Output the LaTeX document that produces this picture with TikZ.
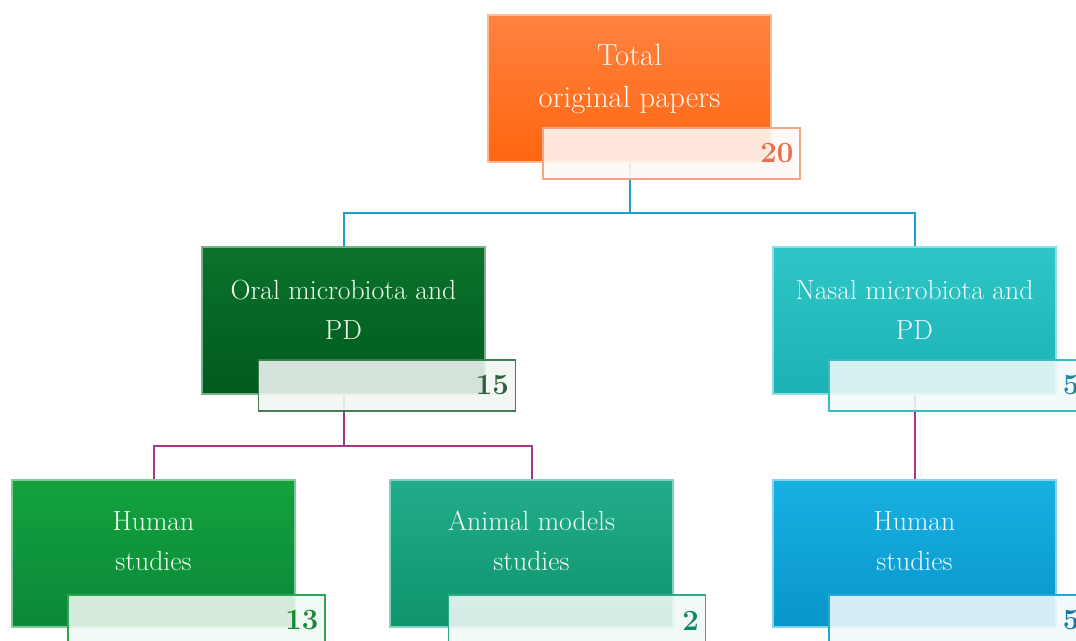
\documentclass[tikz,border=0pt]{standalone}
\usetikzlibrary{positioning}
\definecolor{orT}{HTML}{FF8240}
\definecolor{orB}{HTML}{FF6610}
\definecolor{orL}{HTML}{F4A584}
\definecolor{orN}{HTML}{E5704A}
\definecolor{dgT}{HTML}{0B722C}
\definecolor{dgB}{HTML}{005A1E}
\definecolor{dgL}{HTML}{3F7F52}
\definecolor{dgN}{HTML}{2F5F3C}
\definecolor{tqT}{HTML}{2EC6C6}
\definecolor{tqB}{HTML}{1AB2B4}
\definecolor{tqL}{HTML}{38BCC4}
\definecolor{tqN}{HTML}{1A8A9C}
\definecolor{gnT}{HTML}{13A23E}
\definecolor{gnB}{HTML}{0A8838}
\definecolor{gnL}{HTML}{2CA454}
\definecolor{gnN}{HTML}{1A8838}
\definecolor{agT}{HTML}{21AC8A}
\definecolor{agB}{HTML}{0F946C}
\definecolor{agL}{HTML}{2AAC8C}
\definecolor{agN}{HTML}{138466}
\definecolor{blT}{HTML}{18B0E2}
\definecolor{blB}{HTML}{0896CA}
\definecolor{blL}{HTML}{24A8D8}
\definecolor{blN}{HTML}{1474A4}
\definecolor{lnBlue}{HTML}{1E9FCB}
\definecolor{lnPurple}{HTML}{A8358E}
\tikzset{
  mainbox/.style 2 args={rectangle, minimum width=212.25pt, minimum height=110.25pt,
    inner sep=0pt, top color=#1, bottom color=#2, draw=#1!55!white, line width=0.8pt},
  numbox/.style 2 args={rectangle, minimum width=192.75pt, minimum height=38.25pt,
    inner sep=0pt, text width=183pt, align=right, draw=#1, line width=0.9pt,
    fill=#1!7!white, fill opacity=0.88, text opacity=1, text=#2,
    font=\fontsize{22}{24}\selectfont\bfseries},
  bigtxt/.style={align=center, text=#1, font=\fontsize{23}{32}\selectfont},
  boxtxt/.style={align=center, text=#1, font=\fontsize{20.8}{30}\selectfont},
  bline/.style={draw=lnBlue, line width=1.5pt},
  pline/.style={draw=lnPurple, line width=1.5pt}
}
\begin{document}
\begin{tikzpicture}[x=0.75pt, y=-0.75pt]
\useasboundingbox (0,0) rectangle (1076,641);
\clip (0,0) rectangle (1076,641);
\fill[white] (0,0) rectangle (1076,641);

% main boxes
\node[mainbox={orT}{orB}] (top)   at (629.5,88.5) {};
\node[mainbox={dgT}{dgB}] (oral)  at (343.5,320.5) {};
\node[mainbox={tqT}{tqB}] (nasal) at (914.5,320.5) {};
\node[mainbox={gnT}{gnB}] (hum1)  at (153.5,553.5) {};
\node[mainbox={agT}{agB}] (anim)  at (531.5,553.5) {};
\node[mainbox={blT}{blB}] (hum2)  at (914.5,553.5) {};

% box texts
\node[bigtxt=orange!8!white] (topt) at (629.5,79) {Total\\original papers};
\node[boxtxt=green!6!white] (oralt) at (343.5,310) {Oral microbiota and\\PD};
\node[boxtxt=cyan!5!white] (nasalt) at (914.5,310) {Nasal microbiota and\\PD};
\node[boxtxt=green!6!white] (hum1t) at (153.5,541) {Human\\studies};
\node[boxtxt=green!5!white] (animt) at (531.5,541) {Animal models\\studies};
\node[boxtxt=cyan!6!white] (hum2t) at (914.5,541) {Human\\studies};

% connectors
\coordinate (j1) at (629.5,213);
\coordinate (j2) at (343.5,446);
\draw[bline] (top.south) -- (j1) -| (oral.north);
\draw[bline] (j1) -| (nasal.north);
\draw[pline] (oral.south) -- (j2) -| (hum1.north);
\draw[pline] (j2) -| (anim.north);
\draw[pline] (nasal.south) -- (hum2.north);

% number boxes
\node[numbox={orL}{orN}] (topn)   at (671.5,153.5) {20};
\node[numbox={dgL}{dgN}] (oraln)  at (387,385.5) {15};
\node[numbox={tqL}{tqN}] (nasaln) at (957.5,385.5) {5};
\node[numbox={gnL}{gnN}] (hum1n)  at (196.5,620.5) {13};
\node[numbox={agL}{agN}] (animn)  at (577,620.5) {2};
\node[numbox={blL}{blN}] (hum2n)  at (957.5,620.5) {5};
\end{tikzpicture}
\end{document}
